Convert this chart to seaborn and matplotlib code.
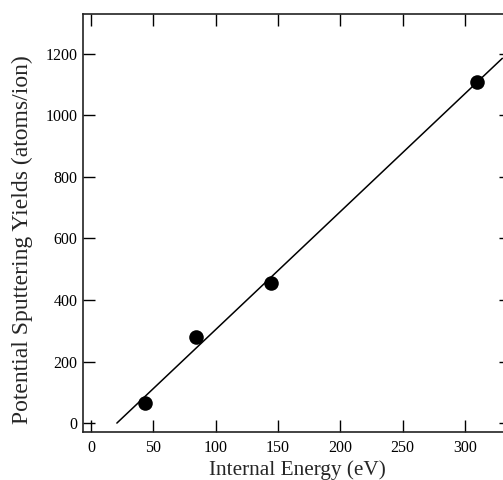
import numpy as np
import seaborn as sns
from matplotlib import pyplot as plt

# internal energy (eV) and potential sputtering yields (atoms/ion)
energy = [43, 84, 144, 310]
yields = [65, 280, 455, 1110]

sns.set_style("ticks")
plt.rcParams['font.family'] = ['Liberation Serif', 'DejaVu Serif']

fig = plt.figure(figsize=(5.03, 4.80), dpi=100)
ax = fig.add_axes([0.165, 0.1, 0.851, 0.871])

sns.scatterplot(x=energy, y=yields, ax=ax, color="black", s=110,
                edgecolor="black", linewidth=0, zorder=3)

# least-squares line, from zero crossing out to x=330
slope, icpt = np.polyfit(energy, yields, 1)
x0 = -icpt / slope
xs = np.array([x0, 330])
ax.plot(xs, slope * xs + icpt, color="black", lw=1.1)

ax.set_xlim(-6.5, 337)
ax.set_ylim(-29, 1330)
ax.set_xticks(range(0, 301, 50))
ax.set_yticks(range(0, 1201, 200))

ax.tick_params(direction="in", length=8.5, width=1, top=True, right=True,
               labelsize=11.5, colors="black")
ax.tick_params(axis="x", pad=6)
ax.tick_params(axis="y", pad=4)
for sp in ax.spines.values():
    sp.set_linewidth(1.2)
    sp.set_color("#222222")

ax.set_xlabel("Internal Energy (eV)", fontsize=15.3, labelpad=3)
ax.set_ylabel("Potential Sputtering Yields (atoms/ion)", fontsize=17)
ax.yaxis.set_label_coords(-0.116, 0.459)

fig.savefig("out.png", dpi=100)
